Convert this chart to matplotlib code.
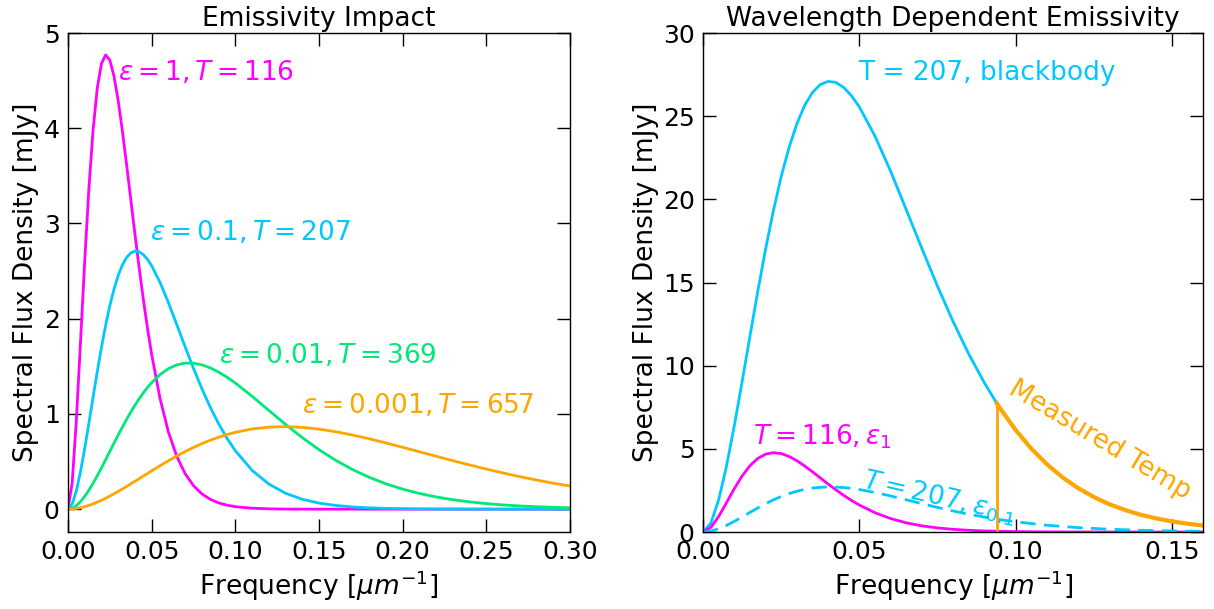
'''Emissivity vs temperature: modified blackbody curves'''
import matplotlib.pyplot as plt

# Frequency grid [um^-1] shared by the curves in the left panel
freq = [0.0, 0.0025, 0.005, 0.0075, 0.01, 0.0125, 0.015, 0.0175, 0.02, 0.0225,
        0.025, 0.0275, 0.03, 0.0325, 0.035, 0.0375, 0.04, 0.0425, 0.045, 0.0475,
        0.05, 0.055, 0.06, 0.065, 0.07, 0.075, 0.08, 0.085, 0.09, 0.095,
        0.10, 0.11, 0.12, 0.13, 0.14, 0.15, 0.16, 0.17, 0.18, 0.19,
        0.20, 0.21, 0.22, 0.23, 0.24, 0.25, 0.26, 0.27, 0.28, 0.29, 0.30]

# eps = 1, T = 116
flux_116 = [0.0, 0.275, 0.932, 1.760, 2.606, 3.368, 3.982, 4.421, 4.678, 4.770,
            4.716, 4.546, 4.290, 3.973, 3.622, 3.256, 2.891, 2.538, 2.207, 1.901,
            1.625, 1.163, 0.811, 0.555, 0.373, 0.247, 0.161, 0.104, 0.066, 0.042,
            0.026, 0.010, 0.004, 0.001, 0.0005, 0.0, 0.0, 0.0, 0.0, 0.0,
            0.0, 0.0, 0.0, 0.0, 0.0, 0.0, 0.0, 0.0, 0.0, 0.0, 0.0]

# eps = 0.1, T = 207
flux_207 = [0.0, 0.053, 0.193, 0.395, 0.638, 0.903, 1.176, 1.445, 1.699, 1.931,
            2.136, 2.310, 2.453, 2.564, 2.642, 2.690, 2.709, 2.703, 2.673, 2.623,
            2.556, 2.381, 2.170, 1.939, 1.706, 1.479, 1.266, 1.071, 0.898, 0.745,
            0.614, 0.408, 0.264, 0.167, 0.104, 0.064, 0.039, 0.023, 0.014, 0.008,
            0.005, 0.003, 0.0016, 0.0009, 0.0005, 0.0003, 0.0002, 0.0001, 0.0001, 0.0, 0.0]

# eps = 0.01, T = 369
flux_369 = [0.0, 0.0098, 0.0372, 0.0795, 0.1343, 0.1992, 0.2720, 0.3508, 0.4337, 0.5194,
            0.6062, 0.6930, 0.7786, 0.8619, 0.9420, 1.0186, 1.0908, 1.1583, 1.2205, 1.2772,
            1.3284, 1.4133, 1.4753, 1.5149, 1.5334, 1.5330, 1.5158, 1.4839, 1.4400, 1.3860,
            1.3245, 1.1855, 1.0375, 0.8905, 0.7516, 0.6247, 0.5130, 0.4165, 0.3347, 0.2664,
            0.2103, 0.1649, 0.1284, 0.0993, 0.0765, 0.0585, 0.0445, 0.0338, 0.0255, 0.0192, 0.0144]

# eps = 0.001, T = 657
flux_657 = [0.0, 0.0018, 0.0069, 0.0151, 0.0262, 0.0397, 0.0556, 0.0735, 0.0932, 0.1145,
            0.1373, 0.1612, 0.1861, 0.2119, 0.2383, 0.2652, 0.2924, 0.3199, 0.3475, 0.3750,
            0.4024, 0.4562, 0.5083, 0.5580, 0.6047, 0.6480, 0.6878, 0.7237, 0.7555, 0.7832,
            0.8069, 0.8420, 0.8613, 0.8665, 0.8590, 0.8406, 0.8133, 0.7789, 0.7392, 0.6957,
            0.6499, 0.6027, 0.5557, 0.5092, 0.4642, 0.4211, 0.3802, 0.3416, 0.3060, 0.2730, 0.2427]

# Right panel: T = 207 blackbody, up to the measured cut
freq_bb = [0.0, 0.0025, 0.005, 0.0075, 0.01, 0.0125, 0.015, 0.0175, 0.02, 0.0225,
           0.025, 0.0275, 0.03, 0.0325, 0.035, 0.0375, 0.04, 0.0425, 0.045, 0.0475,
           0.05, 0.055, 0.06, 0.065, 0.07, 0.075, 0.08, 0.085, 0.09, 0.094]
flux_bb = [0.0, 0.53, 1.93, 3.95, 6.38, 9.03, 11.76, 14.45, 16.99, 19.31,
           21.36, 23.10, 24.53, 25.64, 26.42, 26.90, 27.09, 27.03, 26.73, 26.23,
           25.56, 23.81, 21.70, 19.39, 17.06, 14.79, 12.66, 10.71, 8.98, 7.74]

# Measured part of the blackbody (beyond the cut)
freq_meas = [0.094, 0.095, 0.10, 0.105, 0.11, 0.115, 0.12, 0.125, 0.13,
             0.135, 0.14, 0.145, 0.15, 0.155, 0.16]
flux_meas = [7.74, 7.45, 6.14, 5.02, 4.08, 3.29, 2.64, 2.11, 1.67,
             1.325, 1.04, 0.819, 0.64, 0.499, 0.39]
cut_freq = 0.094

magenta = '#ff00ff'
cyan = '#00c8ff'
green = '#00e87a'
orange = '#ffa500'

plt.rcParams['font.family'] = 'DejaVu Sans'
plt.rcParams['mathtext.fontset'] = 'dejavusans'

fig = plt.figure(figsize=(12.14, 6.09), dpi=100)
ax1 = fig.add_axes([0.0560, 0.1264, 0.4135, 0.8194])
ax2 = fig.add_axes([0.5791, 0.1264, 0.4119, 0.8194])

# Left panel
ax1.plot(freq, flux_116, color=magenta, lw=2)
ax1.plot(freq, flux_207, color=cyan, lw=2)
ax1.plot(freq, flux_369, color=green, lw=2)
ax1.plot(freq, flux_657, color=orange, lw=2)

ax1.text(0.030, 4.59, r'$\varepsilon = 1, T = 116$', color=magenta, fontsize=19, va='center')
ax1.text(0.049, 2.90, r'$\varepsilon = 0.1, T = 207$', color=cyan, fontsize=19, va='center')
ax1.text(0.090, 1.61, r'$\varepsilon = 0.01, T = 369$', color=green, fontsize=19, va='center')
ax1.text(0.140, 1.09, r'$\varepsilon = 0.001, T = 657$', color=orange, fontsize=19, va='center')

ax1.set_xlim(0, 0.30)
ax1.set_ylim(-0.24, 5)
ax1.set_xticks([0.0, 0.05, 0.10, 0.15, 0.20, 0.25, 0.30])
ax1.set_yticks([0, 1, 2, 3, 4, 5])
ax1.set_title('Emissivity Impact', fontsize=19, pad=5)

# Right panel
ax2.plot(freq_bb, flux_bb, color=cyan, lw=2)
ax2.plot(freq, flux_116, color=magenta, lw=2)
ax2.plot(freq, flux_207, color=cyan, lw=2, ls=(0, (5.5, 3)))
ax2.plot(freq_meas, flux_meas, color=orange, lw=3)
ax2.plot([cut_freq, cut_freq], [0, flux_meas[0]], color=orange, lw=2)

ax2.text(0.0496, 27.6, 'T = 207, blackbody', color=cyan, fontsize=19, va='center')
ax2.text(0.016, 5.71, r'$T = 116, \varepsilon_1$', color=magenta, fontsize=19, va='center')
ax2.text(0.0755, 2.05, r'$T = 207, \varepsilon_{0.1}$', color=cyan, fontsize=19,
         va='center', ha='center', rotation=-13)
ax2.text(0.1268, 5.53, 'Measured Temp', color=orange, fontsize=19,
         va='center', ha='center', rotation=-31)

ax2.set_xlim(0, 0.16)
ax2.set_ylim(0, 30)
ax2.set_xticks([0.0, 0.05, 0.10, 0.15])
ax2.set_yticks([0, 5, 10, 15, 20, 25, 30])
ax2.set_title('Wavelength Dependent Emissivity', fontsize=19, pad=5)

for ax in (ax1, ax2):
    ax.tick_params(direction='in', length=9.5, width=1, labelsize=18,
                   top=True, right=True, pad=6)
    ax.set_xticklabels(['%.2f' % t for t in ax.get_xticks()])
    ax.set_xlabel(r'Frequency [$\mu m^{-1}$]', fontsize=19, labelpad=3)
    ax.set_ylabel('Spectral Flux Density [mJy]', fontsize=19, labelpad=3)
    for s in ax.spines.values():
        s.set_linewidth(1)

fig.savefig('out.png', dpi=100)
